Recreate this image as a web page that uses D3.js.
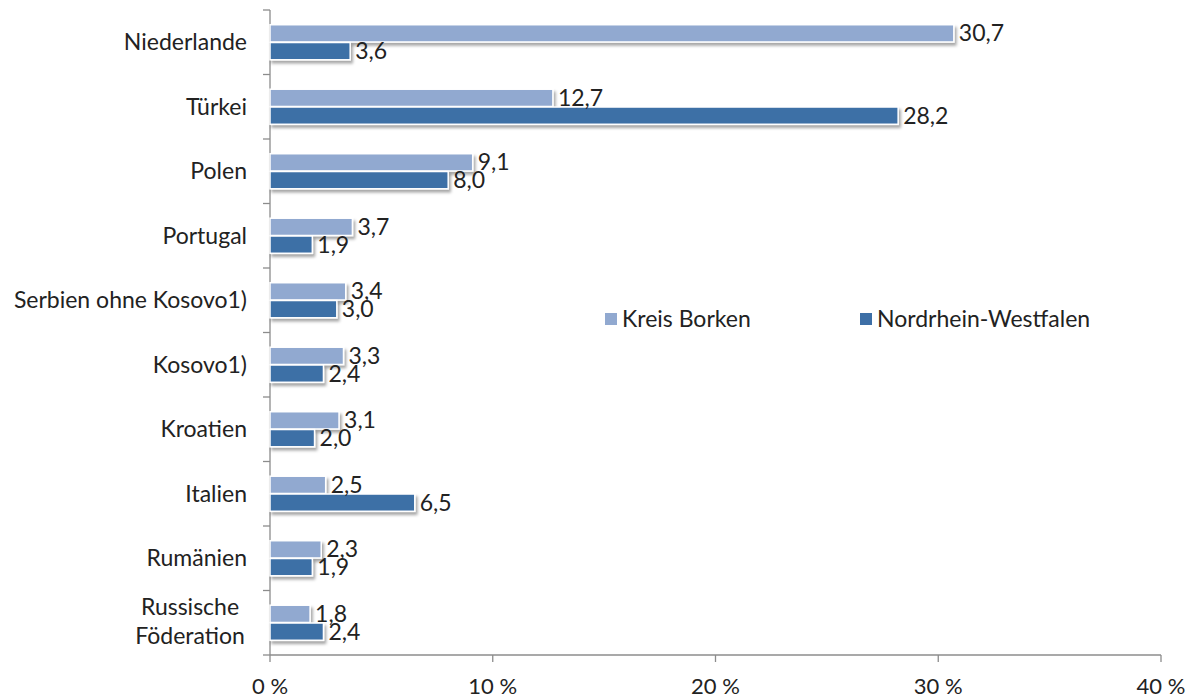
<!DOCTYPE html>
<html><head><meta charset="utf-8">
<script src="https://cdn.jsdelivr.net/npm/d3@7"></script>
<style>body{margin:0;background:#fff}svg{display:block}text{font-family:Lato,"Open Sans",sans-serif;fill:#222}</style>
</head><body><svg id="c" width="1197" height="698"></svg>
<script>
const categories = ["Niederlande","Türkei","Polen","Portugal","Serbien ohne Kosovo1)","Kosovo1)","Kroatien","Italien","Rumänien","Russische Föderation"];
const kreisBorken = [30.7,12.7,9.1,3.7,3.4,3.3,3.1,2.5,2.3,1.8];
const nrw = [3.6,28.2,8.0,1.9,3.0,2.4,2.0,6.5,1.9,2.4];
const seriesNames = ["Kreis Borken","Nordrhein-Westfalen"];
const xTicks = [0,10,20,30,40];
const colors = ["#91a9d0","#3d6fa6"];
const FS = 23;

const svg = d3.select("#c");
const defs = svg.append("defs");
const f = defs.append("filter").attr("id","sh").attr("x","-10%").attr("y","-30%").attr("width","130%").attr("height","200%");
f.append("feDropShadow").attr("dx",2).attr("dy",3).attr("stdDeviation",1.6).attr("flood-color","#000").attr("flood-opacity",0.35);

const x = d3.scaleLinear().domain([0,40]).range([270,1161]);
const y0 = d3.scaleBand().domain(categories).range([10,655]).paddingInner(0.44).paddingOuter(0.22);
const y1 = d3.scaleBand().domain(seriesNames).range([0,y0.bandwidth()]).padding(0.03);
const data = categories.map((c,i)=>({c, v:[kreisBorken[i], nrw[i]]}));
const fmt = v => d3.format(".1f")(v).replace(".",",");

// axes
const ax = svg.append("g").attr("stroke","#8c8c8c").attr("stroke-width",1.3).attr("fill","none");
ax.append("line").attr("x1",270).attr("x2",270).attr("y1",10).attr("y2",655);
ax.append("line").attr("x1",270).attr("x2",1161).attr("y1",655).attr("y2",655);
const step = y0.step();
d3.range(categories.length+1).forEach(i=>{
  const yy = 10 + i*step;
  ax.append("line").attr("x1",263).attr("x2",270).attr("y1",yy).attr("y2",yy);
});
xTicks.forEach(t=>{
  ax.append("line").attr("x1",x(t)).attr("x2",x(t)).attr("y1",655).attr("y2",662);
});
svg.append("g").selectAll("text").data(xTicks).join("text")
  .attr("x",d=>x(d)).attr("y",694).attr("text-anchor","middle").attr("font-size",FS-1)
  .text(d=>d+" %");

// category labels
const cl = svg.append("g");
data.forEach(d=>{
  const cy = y0(d.c)+y0.bandwidth()/2;
  if(d.c==="Russische Föderation"){
    const t = cl.append("text").attr("text-anchor","middle").attr("font-size",FS);
    t.append("tspan").attr("x",190).attr("y",cy-8).text("Russische");
    t.append("tspan").attr("x",190).attr("y",cy+21).text("Föderation");
  } else {
    cl.append("text").attr("x",247).attr("y",cy+8).attr("text-anchor","end").attr("font-size",FS).text(d.c);
  }
});

// bars
const g = svg.append("g").selectAll("g").data(data).join("g").attr("transform",d=>`translate(0,${y0(d.c)})`);
g.selectAll("rect").data(d=>d.v.map((v,i)=>({v,i}))).join("rect")
  .attr("x",x(0)).attr("y",d=>y1(seriesNames[d.i])).attr("width",d=>x(d.v)-x(0)).attr("height",y1.bandwidth())
  .attr("fill",d=>colors[d.i]).attr("stroke","#fff").attr("stroke-width",1.5).attr("filter","url(#sh)");
g.selectAll("text").data(d=>d.v.map((v,i)=>({v,i}))).join("text")
  .attr("x",d=>x(d.v)+5).attr("y",d=>y1(seriesNames[d.i])+y1.bandwidth()/2+8).attr("font-size",FS)
  .text(d=>fmt(d.v));

// legend
const lg = svg.append("g");
const legX = [605,860];
seriesNames.forEach((s,i)=>{
  lg.append("rect").attr("x",legX[i]).attr("y",313).attr("width",12).attr("height",12).attr("fill",colors[i]);
  lg.append("text").attr("x",legX[i]+17).attr("y",327).attr("font-size",FS).text(s);
});
</script></body></html>
